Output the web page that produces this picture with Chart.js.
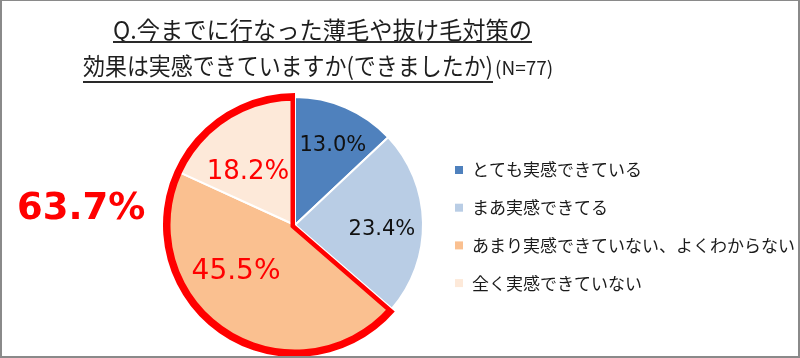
<!DOCTYPE html>
<html><head><meta charset="utf-8">
<script src="https://cdn.jsdelivr.net/npm/chart.js@4.4.1/dist/chart.umd.min.js"></script>
<style>
html,body{margin:0;padding:0;background:#fff;}
#wrap{position:relative;width:800px;height:358px;overflow:hidden;}
#frame{position:absolute;left:0;top:0;width:800px;height:358px;box-sizing:border-box;border:2px solid #8a8a8a;border-top-width:1px;pointer-events:none;}
</style></head><body>
<div id="wrap"><canvas id="c" width="800" height="358"></canvas><div id="frame"></div></div>
<script>
// ---- data ----
const titleLine1 = 'Q.今までに行なった薄毛や抜け毛対策の';
const titleLine2 = '効果は実感できていますか(できましたか)';
const sampleNote = '(N=77)';
const categories = ['とても実感できている', 'まあ実感できてる', 'あまり実感できていない、よくわからない', '全く実感できていない'];
const shares = [13.0, 23.4, 45.5, 18.2];
const highlighted = [2, 3];

// ---- styles ----
const sliceColors = ['#4f81bd', '#b9cde5', '#fac090', '#fde9d9'];
const labelStyle = [
  {color: '#111111', size: 21, frac: 0.69, shift: 2},
  {color: '#111111', size: 21, frac: 0.68, shift: 4.4},
  {color: '#ff0000', size: 28, frac: 0.59, shift: 18.6},
  {color: '#ff0000', size: 26, frac: 0.55, shift: -9.2}
];
const CJK = '"Noto Sans CJK JP", "Noto Sans", sans-serif';
const NUM = '"DejaVu Sans", sans-serif';

const decorPlugin = {
  id: 'decor',
  afterDatasetsDraw(chart) {
    const ctx = chart.ctx;
    const meta = chart.getDatasetMeta(0);
    const first = meta.data[highlighted[0]];
    const last = meta.data[highlighted[highlighted.length - 1]];
    const cx = first.x, cy = first.y, R = first.outerRadius;
    const s = first.startAngle, e = last.endAngle;
    // red outline around highlighted group
    ctx.save();
    ctx.beginPath();
    ctx.moveTo(cx, cy);
    ctx.arc(cx, cy, R + 4, s, e);
    ctx.closePath();
    ctx.clip();
    ctx.beginPath();
    ctx.moveTo(cx, cy);
    ctx.lineTo(cx + (R + 1) * Math.cos(s), cy + (R + 1) * Math.sin(s));
    ctx.arc(cx, cy, R + 1, s, e);
    ctx.closePath();
    ctx.lineWidth = 9;
    ctx.lineJoin = 'miter';
    ctx.strokeStyle = '#ff0000';
    ctx.stroke();
    ctx.restore();

    // value labels
    ctx.save();
    ctx.textAlign = 'center';
    ctx.textBaseline = 'middle';
    meta.data.forEach((arc, i) => {
      const st = labelStyle[i];
      const mid = (arc.startAngle + arc.endAngle) / 2 + st.shift * Math.PI / 180;
      const r = arc.outerRadius * st.frac;
      ctx.font = st.size + 'px ' + NUM;
      ctx.fillStyle = st.color;
      ctx.fillText(shares[i].toFixed(1) + '%', arc.x + r * Math.cos(mid), arc.y + r * Math.sin(mid));
    });
    ctx.restore();
  },
  afterDraw(chart) {
    const ctx = chart.ctx;
    ctx.save();
    // title
    ctx.fillStyle = '#1e1e1e';
    ctx.strokeStyle = '#2a2a2a';
    ctx.textBaseline = 'middle';
    ctx.textAlign = 'left';
    ctx.font = '24px ' + CJK;
    const w1 = Math.min(ctx.measureText(titleLine1).width, 419);
    ctx.fillText(titleLine1, 113, 30, 419);
    ctx.lineWidth = 2;
    ctx.beginPath(); ctx.moveTo(113, 42); ctx.lineTo(113 + w1, 42); ctx.stroke();
    const w2 = Math.min(ctx.measureText(titleLine2).width, 410);
    ctx.fillText(titleLine2, 83, 66, 410);
    ctx.beginPath(); ctx.moveTo(83, 82); ctx.lineTo(83 + w2, 82); ctx.stroke();
    ctx.font = '19px ' + CJK;
    ctx.fillText(sampleNote, 83 + w2 + 2, 68, 62);

    // legend
    ctx.font = '17px ' + CJK;
    categories.forEach((t, i) => {
      const y = 170 + i * 37.7;
      ctx.fillStyle = sliceColors[i];
      ctx.fillRect(455, y - 4, 8, 8);
      ctx.fillStyle = '#1a1a1a';
      ctx.fillText(t, 472, y);
    });

    // group total
    const total = highlighted.reduce((a, i) => a + shares[i], 0);
    ctx.font = 'bold 37px ' + NUM;
    ctx.fillStyle = '#ff0000';
    ctx.fillText(total.toFixed(1) + '%', 17, 209);
    ctx.restore();
  }
};

new Chart(document.getElementById('c'), {
  type: 'pie',
  data: {
    labels: categories,
    datasets: [{
      data: shares,
      backgroundColor: sliceColors,
      borderColor: '#ffffff',
      borderWidth: 2
    }]
  },
  options: {
    responsive: false,
    devicePixelRatio: 1,
    animation: false,
    radius: 128,
    layout: {padding: {left: 167, right: 377, top: 97, bottom: 5}},
    plugins: {legend: {display: false}, tooltip: {enabled: false}, title: {display: false}}
  },
  plugins: [decorPlugin]
});
</script>
</body></html>
